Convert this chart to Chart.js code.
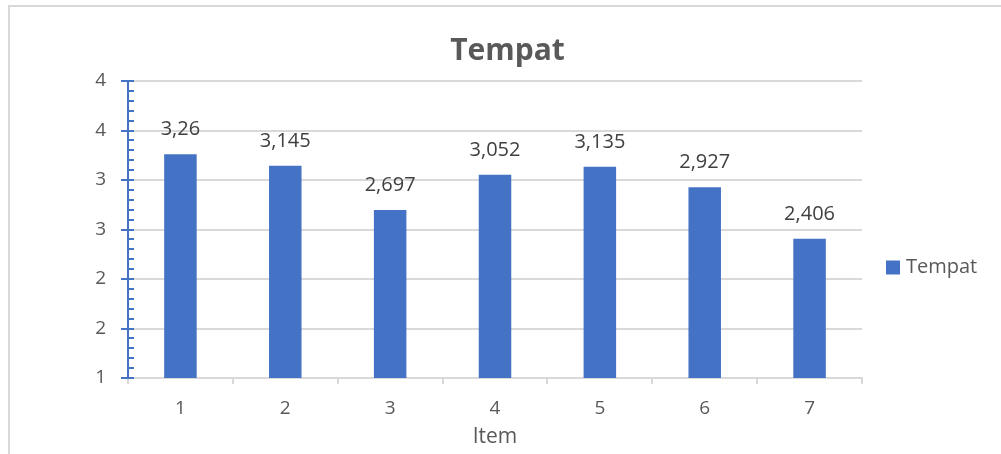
<!DOCTYPE html>
<html>
<head>
<meta charset="utf-8">
<title>Tempat</title>
<script src="https://cdn.jsdelivr.net/npm/chart.js@4/dist/chart.umd.min.js"></script>
<style>
  html, body { margin: 0; padding: 0; background: #ffffff; }
  #wrap { position: relative; width: 1001px; height: 454px; overflow: hidden; }
  #frame { position: absolute; left: 8px; top: 5px; right: 0; bottom: 0;
           border-left: 2px solid #d9d9d9; border-top: 2px solid #d9d9d9; }
  canvas { position: absolute; left: 0; top: 0; }
</style>
</head>
<body>
<div id="wrap">
  <div id="frame"></div>
  <canvas id="chart" width="1001" height="454"></canvas>
</div>
<script>
// Item numbers and the average score for each
const categories = ['1', '2', '3', '4', '5', '6', '7'];
const seriesName = 'Tempat';
const values = [3.26, 3.145, 2.697, 3.052, 3.135, 2.927, 2.406];

// Value axis range and steps
const yMin = 1;
const yMax = 4;
const yMajorStep = 0.5;
const yMinorStep = 0.1;

const BLUE = '#4472C4';
const GRID = '#d9d9d9';
const TEXT = '#595959';
const FONT = '"Open Sans", "Liberation Sans", sans-serif';

// Comma as the decimal separator
const fmt = v => String(v).replace('.', ',');

// Value labels above each bar
const barLabels = {
  id: 'barLabels',
  afterDatasetsDraw(chart) {
    const ctx = chart.ctx;
    ctx.save();
    ctx.font = '20px ' + FONT;
    ctx.fillStyle = '#404040';
    ctx.textAlign = 'center';
    ctx.textBaseline = 'alphabetic';
    chart.getDatasetMeta(0).data.forEach((bar, i) => {
      ctx.fillText(fmt(chart.data.datasets[0].data[i]), bar.x, bar.y - 19);
    });
    ctx.restore();
  }
};

// Major and minor tick marks on the value axis
const valueAxisTicks = {
  id: 'valueAxisTicks',
  afterDraw(chart) {
    const scale = chart.scales.y;
    const ctx = chart.ctx;
    const x0 = scale.right;
    ctx.save();
    ctx.strokeStyle = BLUE;
    ctx.lineWidth = 2;
    const n = Math.round((yMax - yMin) / yMinorStep);
    for (let i = 0; i <= n; i++) {
      const v = yMin + i * yMinorStep;
      const y = Math.round(scale.getPixelForValue(v));
      const ratio = (v - yMin) / yMajorStep;
      const major = Math.abs(ratio - Math.round(ratio)) < 1e-6;
      ctx.beginPath();
      ctx.moveTo(major ? x0 - 7 : x0, y);
      ctx.lineTo(x0 + 6, y);
      ctx.stroke();
    }
    ctx.restore();
  }
};

// Legend as a layout box on the right, so the title stays centred on the whole chart
const sideLegend = {
  id: 'sideLegend',
  beforeInit(chart) {
    const box = {
      position: 'right',
      weight: 10,
      fullSize: false,
      options: {},
      width: 0, height: 0, left: 0, right: 0, top: 0, bottom: 0,
      isHorizontal() { return false; },
      update(maxWidth, maxHeight) {
        this.width = 139;
        this.height = maxHeight;
      },
      draw() {
        const ctx = chart.ctx;
        const area = chart.chartArea;
        const ds = chart.data.datasets[0];
        const cy = (chart.height + area.top) / 2;
        const x = area.right + 24;
        const size = 14;
        ctx.save();
        ctx.fillStyle = ds.backgroundColor;
        ctx.fillRect(x, cy - size / 2, size, size);
        ctx.font = '20px ' + FONT;
        ctx.fillStyle = TEXT;
        ctx.textAlign = 'left';
        ctx.textBaseline = 'middle';
        ctx.fillText(ds.label, x + size + 6, cy);
        ctx.restore();
      }
    };
    Chart.layouts.addBox(chart, box);
  }
};

new Chart(document.getElementById('chart'), {
  type: 'bar',
  data: {
    labels: categories,
    datasets: [{
      label: seriesName,
      data: values,
      backgroundColor: BLUE,
      borderWidth: 0,
      barPercentage: 0.31,
      categoryPercentage: 1
    }]
  },
  options: {
    responsive: false,
    animation: false,
    devicePixelRatio: 1,
    layout: { padding: { left: 14, right: 0, top: 0, bottom: 0 } },
    plugins: {
      legend: { display: false },
      tooltip: { enabled: false },
      title: {
        display: true,
        text: seriesName,
        color: TEXT,
        font: { family: FONT, size: 30, weight: 'bold', lineHeight: 1.2 },
        padding: { top: 33, bottom: 12 }
      }
    },
    scales: {
      x: {
        offset: true,
        grid: {
          offset: true,
          drawOnChartArea: false,
          drawTicks: true,
          tickLength: 6,
          color: GRID,
          lineWidth: 2
        },
        border: { display: true, color: GRID, width: 2 },
        ticks: {
          color: TEXT,
          font: { family: FONT, size: 19 },
          padding: 13
        },
        title: {
          display: true,
          text: 'Item',
          color: TEXT,
          font: { family: FONT, size: 21, lineHeight: 1.2 },
          padding: { top: 0, bottom: 4 }
        },
        afterFit(scale) { scale.height = 76; }
      },
      y: {
        min: yMin,
        max: yMax,
        grid: {
          drawTicks: false,
          color: GRID,
          lineWidth: 2
        },
        border: { display: true, color: BLUE, width: 2 },
        ticks: {
          stepSize: yMajorStep,
          color: TEXT,
          font: { family: FONT, size: 19 },
          padding: 22,
          callback: v => String(Math.round(v))
        },
        afterFit(scale) { scale.width = 114; }
      }
    }
  },
  plugins: [sideLegend, barLabels, valueAxisTicks]
});
</script>
</body>
</html>
